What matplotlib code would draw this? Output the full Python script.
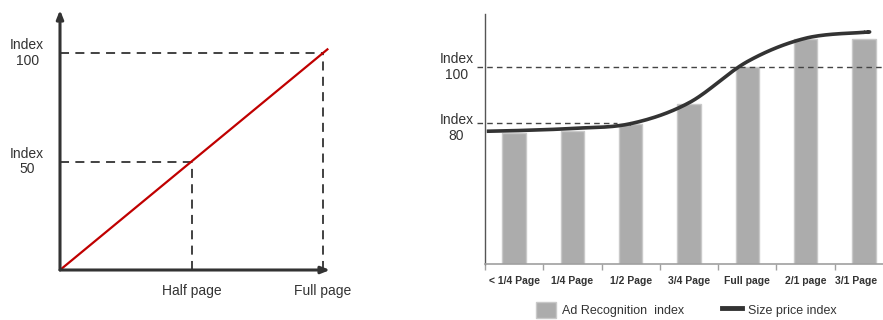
import matplotlib.pyplot as plt
from matplotlib.lines import Line2D
from matplotlib.patches import Patch
from matplotlib.transforms import ScaledTranslation
import numpy as np

plt.rcParams['font.family'] = ['Liberation Sans', 'DejaVu Sans']

# Left panel: linear price index
lin_x = [0.0, 1.02]
lin_y = [0.0, 102.0]
half_page = (0.5, 50)
full_page = (1.0, 100)

# Right panel: recognition vs. price by ad size
categories = ['< 1/4 Page', '1/4 Page', '1/2 Page', '3/4 Page', 'Full page', '2/1 page', '3/1 Page']
recognition = [76.5, 77.3, 79.7, 86.9, 100, 110, 110]
price_x = [-0.47, 0, 1, 2, 3, 4, 5, 6, 6.07]
price = [77.2, 77.4, 78.2, 79.9, 87.3, 101.9, 110.2, 112.3, 112.3]

DARK = '#333333'


def smooth(xs, ys, n=30):
    # Catmull-Rom spline through the points
    p = np.column_stack([xs, ys]).astype(float)
    p = np.vstack([p[0], p, p[-1]])
    out = []
    t = np.linspace(0, 1, n)[:, None]
    for i in range(1, len(p) - 2):
        p0, p1, p2, p3 = p[i - 1], p[i], p[i + 1], p[i + 2]
        seg = 0.5 * ((2 * p1) + (-p0 + p2) * t + (2 * p0 - 5 * p1 + 4 * p2 - p3) * t ** 2
                     + (-p0 + 3 * p1 - 3 * p2 + p3) * t ** 3)
        out.append(seg)
    out = np.vstack(out)
    return out[:, 0], out[:, 1]


fig = plt.figure(figsize=(8.83, 3.2), dpi=100)

# ---- left chart
ax1 = fig.add_axes([60 / 883, 50 / 320, 270 / 883, 260 / 320])
ax1.set_xlim(0, 270 / 263)
ax1.set_ylim(0, 260 / 2.17)
for s in ax1.spines.values():
    s.set_visible(False)
ax1.set_xticks([])
ax1.set_yticks([])
ax1.patch.set_alpha(0)

arrow = dict(arrowstyle='-|>,head_length=0.5,head_width=0.2', color=DARK, lw=2.2,
             shrinkA=0, shrinkB=0)
ax1.annotate('', xy=(1, 0), xytext=(0, 0), xycoords='axes fraction', arrowprops=arrow)
ax1.annotate('', xy=(0, 1), xytext=(0, 0), xycoords='axes fraction', arrowprops=arrow)

dash = dict(color=DARK, lw=1.3, dashes=(5, 3.5))
for px, py in (half_page, full_page):
    ax1.plot([0, px], [py, py], **dash)
    ax1.plot([px, px], [0, py], **dash)

ax1.plot(lin_x, lin_y, color='#c00000', lw=1.6, solid_capstyle='butt')

ax1.text(-0.125, 100, 'Index\n100', ha='center', va='center', fontsize=10,
         color=DARK, linespacing=1.15, clip_on=False)
ax1.text(-0.125, 50, 'Index\n50', ha='center', va='center', fontsize=10,
         color=DARK, linespacing=1.15, clip_on=False)
ax1.text(half_page[0], -9.5, 'Half page', ha='center', va='center', fontsize=10,
         color=DARK, clip_on=False)
ax1.text(full_page[0], -9.5, 'Full page', ha='center', va='center', fontsize=10,
         color=DARK, clip_on=False)

# ---- right chart
ax2 = fig.add_axes([485 / 883, 56 / 320, 408 / 883, 250 / 320])
x = np.arange(len(categories))
ax2.set_xlim(-0.5, 6.5)
ax2.set_ylim(30.1, 118.8)
ax2.patch.set_alpha(0)

ax2.bar(x, recognition, width=0.4, color='#acacac', edgecolor='#c9c9c9', lw=1.0,
        zorder=2)

for val, xmax in ((100, 6.6), (80, 1.76)):
    ax2.plot([-0.64, xmax], [val, val], color='#444444', lw=1.0, dashes=(4, 3),
             clip_on=False, zorder=3)

sx, sy = smooth(price_x, price)
ax2.plot(sx, sy, color=DARK, lw=2.6, solid_capstyle='butt', zorder=4)

ax2.text(-0.99, 100, 'Index\n100', ha='center', va='center', fontsize=10,
         color=DARK, linespacing=1.15, clip_on=False)
ax2.text(-0.99, 78.3, 'Index\n80', ha='center', va='center', fontsize=10,
         color=DARK, linespacing=1.15, clip_on=False)

ax2.spines['top'].set_visible(False)
ax2.spines['right'].set_visible(False)
ax2.spines['left'].set_color('#555555')
ax2.spines['bottom'].set_color('#a0a0a0')
ax2.spines['left'].set_linewidth(1.0)
ax2.spines['bottom'].set_linewidth(1.2)
ax2.set_yticks([])
ax2.set_xticks(x)
ax2.set_xticklabels(categories, fontsize=7.5, fontweight='bold', color=DARK)
ax2.tick_params(axis='x', which='major', length=0, pad=9)
ax2.set_xticks(np.arange(-0.5, 7, 1), minor=True)
ax2.tick_params(axis='x', which='minor', length=4, color='#a0a0a0', width=1)

# keep the last category label inside the figure edge
last = ax2.get_xticklabels()[-1]
last.set_transform(last.get_transform() + ScaledTranslation(-8 / 100, 0, fig.dpi_scale_trans))

handles = [Patch(facecolor='#acacac', edgecolor='#c9c9c9'),
           Line2D([], [], color=DARK, lw=3.5)]
fig.legend(handles, ['Ad Recognition  index', 'Size price index'], ncol=2,
           loc='center', bbox_to_anchor=(686 / 883, 10 / 320), frameon=False,
           fontsize=9, handlelength=1.6, handleheight=1.7, handletextpad=0.5,
           columnspacing=3.0, labelcolor=DARK)

fig.savefig('out.png', dpi=100)
